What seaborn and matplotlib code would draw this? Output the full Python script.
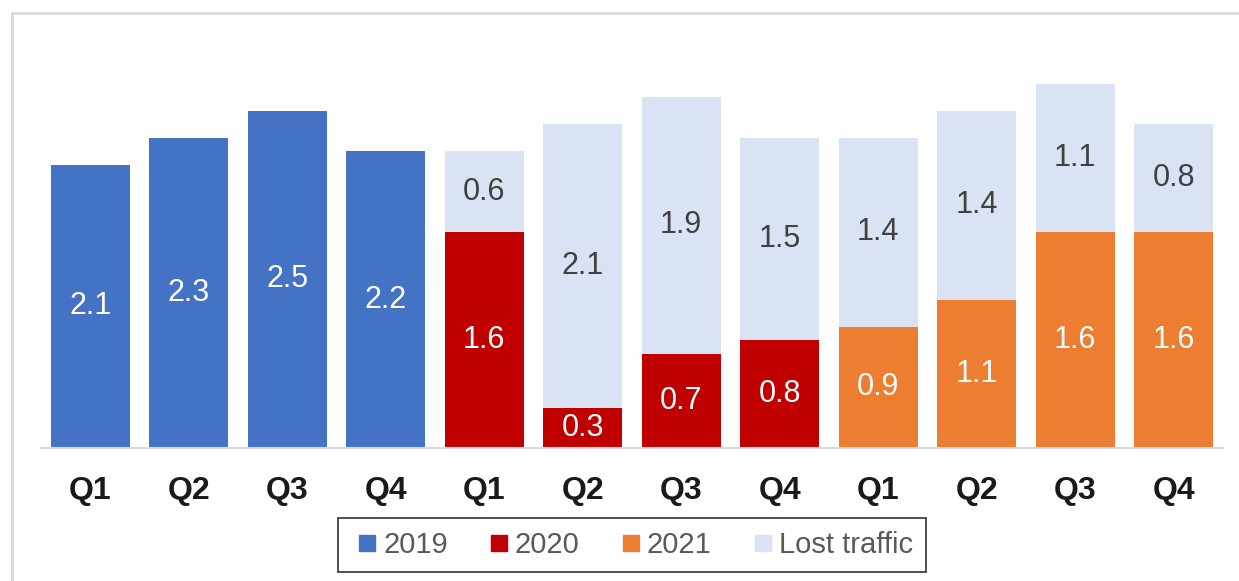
import matplotlib
matplotlib.use("Agg")
import matplotlib.pyplot as plt
from matplotlib.patches import Rectangle
from matplotlib.lines import Line2D
import seaborn as sns
import pandas as pd

years = ["2019"] * 4 + ["2020"] * 4 + ["2021"] * 4
quarters = ["Q1", "Q2", "Q3", "Q4"] * 3
traffic = [2.1, 2.3, 2.5, 2.2, 1.6, 0.3, 0.7, 0.8, 0.9, 1.1, 1.6, 1.6]
lost = [0, 0, 0, 0, 0.6, 2.1, 1.9, 1.5, 1.4, 1.4, 1.1, 0.8]

colors = {"2019": "#4472C4", "2020": "#C00000", "2021": "#ED7D31"}
lost_color = "#DAE3F3"

sns.set_theme(style="white")
plt.rcParams["font.family"] = ["Liberation Sans", "DejaVu Sans"]

df = pd.DataFrame({
    "slot": [f"{y} {q}" for y, q in zip(years, quarters)],
    "year": years,
    "quarter": quarters,
    "traffic": traffic,
    "lost": lost,
})
df["total"] = df["traffic"] + df["lost"]

W, H = 1239, 581
px_per_unit = 135
fig = plt.figure(figsize=(W / 100, H / 100), dpi=100)
ax = fig.add_axes([41 / W, 1 - 448 / H, (1223 - 41) / W, (448 - 30) / H])

sns.barplot(data=df, x="slot", y="total", color=lost_color, saturation=1,
            width=0.8, ax=ax, order=df["slot"], linewidth=0)
sns.barplot(data=df, x="slot", y="traffic", hue="year", palette=colors,
            saturation=1, width=0.8, dodge=False, ax=ax, order=df["slot"],
            legend=False, linewidth=0)

ax.set_xlim(-0.5, 11.5)
ax.set_ylim(0, 418 / px_per_unit)

for i, row in df.iterrows():
    ax.text(i, row["traffic"] / 2, f"{row['traffic']:.1f}", ha="center",
            va="center", color="white", fontsize=22)
    if row["lost"] > 0:
        ax.text(i, row["traffic"] + row["lost"] / 2, f"{row['lost']:.1f}",
                ha="center", va="center", color="#404040", fontsize=22)

ax.set_xticks(range(len(df)))
ax.set_xticklabels(quarters, fontsize=23, fontweight="bold", color="#1a1a1a")
ax.tick_params(axis="x", length=0, pad=20)
ax.set_yticks([])
ax.set_xlabel("")
ax.set_ylabel("")
for s in ["top", "right", "left"]:
    ax.spines[s].set_visible(False)
ax.spines["bottom"].set_color("#D9D9D9")
ax.spines["bottom"].set_linewidth(1.5)

handles = [Line2D([0], [0], marker="s", linestyle="", markersize=11,
                  markerfacecolor=colors[y], markeredgecolor=colors[y], label=y)
           for y in ["2019", "2020", "2021"]]
handles.append(Line2D([0], [0], marker="s", linestyle="", markersize=11,
                      markerfacecolor=lost_color, markeredgecolor=lost_color,
                      label="Lost traffic"))
leg = fig.legend(handles=handles, loc="center", bbox_to_anchor=(632 / W, 1 - 545 / H),
                 ncol=4, frameon=True, fancybox=False, fontsize=21,
                 handletextpad=0.0, columnspacing=1.2, borderpad=0.45,
                 handlelength=1.1, borderaxespad=0)
leg.get_frame().set_edgecolor("black")
leg.get_frame().set_linewidth(1.2)
for t in leg.get_texts():
    t.set_color("#595959")

border = Rectangle((12 / W, -0.1), 1.2, 1 - 13 / H + 0.1, transform=fig.transFigure,
                   fill=False, edgecolor="#D9D9D9", linewidth=2, clip_on=False)
fig.patches.append(border)

fig.savefig("out.png", dpi=100)
